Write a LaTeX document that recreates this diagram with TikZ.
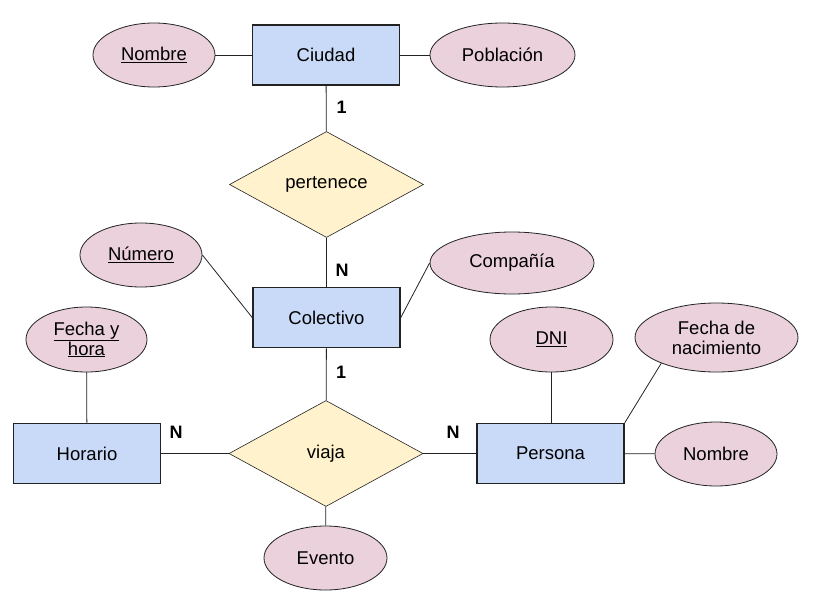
\documentclass[tikz,border=0pt]{standalone}
\usepackage{fontspec}
\setmainfont{Liberation Sans}
\usetikzlibrary{shapes.geometric}
\definecolor{entfill}{HTML}{C9DAF8}
\definecolor{attfill}{HTML}{EAD1DC}
\definecolor{relfill}{HTML}{FFF2CC}
\definecolor{edgec}{HTML}{222222}
\tikzset{
  base/.style={font=\fontsize{18.5}{21}\selectfont, text=black, inner sep=0pt},
  entity/.style={base, rectangle, draw=edgec, line width=1.6pt, fill=entfill, minimum width=147pt, minimum height=60pt},
  attr/.style={base, ellipse, draw=edgec, line width=0.8pt, fill=attfill, minimum width=122pt, minimum height=64pt, align=center},
  rel/.style={base, diamond, draw=edgec, line width=0.6pt, fill=relfill, minimum width=194pt, minimum height=106pt},
  card/.style={font=\fontsize{18}{20}\selectfont\bfseries, text=black, inner sep=0pt},
  conn/.style={draw=edgec, line width=0.8pt}
}
\begin{document}
\begin{tikzpicture}[x=1pt,y=-1pt]
\useasboundingbox (0,0) rectangle (813,599);
% entities
\node[entity] (ciudad) at (326,55) {Ciudad};
\node[entity] (colectivo) at (326.5,317.5) {Colectivo};
\node[entity] (horario) at (87,453.5) {Horario};
\node[entity] (persona) at (550.5,453.5) {Persona};
% relationships
\node[rel] (pertenece) at (326.5,184.5) {pertenece};
\node[rel] (viaja) at (326,453.5) {viaja};
% attributes
\node[attr] (nombreC) at (154,55) {\underline{Nombre}};
\node[attr, minimum width=145pt] (poblacion) at (502.5,55) {Población};
\node[attr] (numero) at (141,255) {\underline{Número}};
\node[attr, minimum width=164pt, minimum height=62pt] (compania) at (512,263) {Compañía};
\node[attr, minimum width=121pt, minimum height=65pt] (fechahora) at (86.5,339.5) {\underline{Fecha y}\\[-1pt]\underline{hora}};
\node[attr, minimum width=123pt, minimum height=65pt] (dni) at (551.5,339.5) {\underline{DNI}};
\node[attr, minimum width=163pt, minimum height=69pt] (fechanac) at (716.5,337.5) {Fecha de\\[-1pt]nacimiento};
\node[attr, minimum width=122pt, minimum height=64pt] (nombreP) at (716,454) {Nombre};
\node[attr, minimum width=123pt, minimum height=64pt] (evento) at (325.5,558) {Evento};
% connectors
\draw[conn] (nombreC) -- (ciudad);
\draw[conn] (ciudad) -- (poblacion);
\draw[conn] (ciudad) -- (pertenece);
\draw[conn] (pertenece) -- (colectivo);
\draw[conn] (numero.east) -- (colectivo.west);
\draw[conn] (compania.west) -- (colectivo.east);
\draw[conn] (colectivo) -- (viaja);
\draw[conn] (horario) -- (viaja);
\draw[conn] (viaja) -- (persona);
\draw[conn] (viaja) -- (evento);
\draw[conn] (fechahora) -- (horario);
\draw[conn] (dni.south) -- (dni.south |- persona.north);
\draw[conn] (fechanac.205) -- (persona.north east);
\draw[conn] (persona) -- (nombreP);
% cardinalities
\node[card] (c1) at (341.5,107) {1};
\node[card] (c2) at (342,270) {N};
\node[card] (c3) at (341,372) {1};
\node[card] (c4) at (176,432) {N};
\node[card] (c5) at (453,432) {N};
\end{tikzpicture}
\end{document}
